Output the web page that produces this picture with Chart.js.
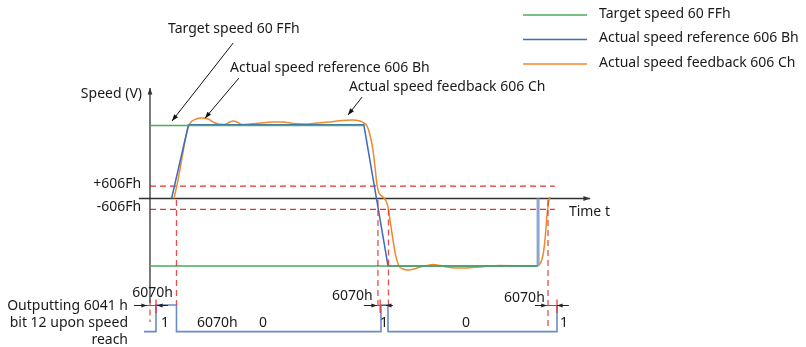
<!DOCTYPE html>
<html>
<head>
<meta charset="utf-8">
<script src="https://cdn.jsdelivr.net/npm/chart.js@4/dist/chart.umd.min.js"></script>
<style>
html, body { margin: 0; padding: 0; background: #fff; }
#wrap { width: 806px; height: 347px; position: relative; }
</style>
</head>
<body>
<div id="wrap"><canvas id="chart"></canvas></div>
<script>
// time in arbitrary units: 0 = speed axis, 100 = tip of the time axis
// speed in % of the target speed
const targetTime = [0, 48.9, 48.9, 0, 88.2]
const targetSpeed = [100, 100, null, -92.5, -92.5]

const refTime = [4.9, 8.75, 48.6, 54.1, 88.2, 88.2]
const refSpeed = [0, 101, 101, -92.5, -92.5, 0]

const fbTime = [5.45, 6.36, 7.27, 7.95, 8.64, 9.32, 10.45, 11.82, 13.18, 14.32, 15.45, 16.82,
	17.95, 18.86, 19.77, 20.91, 22.73, 25, 27.73, 30.23, 32.5, 35.23, 37.95, 40.91, 43.64,
	45.91, 47.73, 48.64, 49.32, 50, 50.68, 51.14, 51.59, 52.05, 52.95, 53.64, 54.09, 54.55,
	55.23, 55.91, 56.59, 57.5, 58.64, 60, 61.36, 62.95, 64.32, 65.91, 67.5, 69.32, 71.59,
	75, 79.55, 84.09, 87.73, 88.64, 89.32, 89.77, 90.23, 90.68, 90.91]
const fbSpeed = [0, 25.3, 55.5, 78.8, 96.6, 104.8, 108.9, 110.3, 108.9, 104.8, 102.1, 101.4,
	104.1, 106.2, 104.8, 101.4, 102.1, 103.4, 104.8, 104.8, 102.7, 102.1, 103.4, 104.8, 106.8,
	107.5, 106.2, 103.4, 99.3, 87, 66.4, 43.2, 18.5, 7.5, 2, -3.4, -11.6, -29.5,
	-56.8, -80.1, -92.5, -96.6, -97.9, -96.6, -93.8, -91.8, -90.4, -91.8, -93.8, -95.2, -95.2,
	-93.8, -91.8, -92.5, -92.5, -89.7, -77.4, -56.8, -22.6, -2, 2]

// 6041h bit 12 (speed reached)
const bitTime = [-1.36, 1.36, 1.36, 6.02, 6.02, 52.5, 52.5, 54.09, 54.09, 92.5, 92.5]
const bitLevel = [0, 0, 1, 1, 0, 0, 1, 1, 0, 0, 1]

// 606Fh window
const windowUp = 17
const windowDown = -15

// 6070h time windows
const windows = [
	{ start: -0.68, end: 1.59, tick: 1.36, tailL: -3.64, tailR: 4.09, labelT: 0.57, labelB: 1.45 },
	{ start: 51.6, end: 53.6, tick: 52.3, tailL: 48.6, tailR: 55.2, labelT: 46, labelB: 1.34 },
	{ start: 90.2, end: 92.5, tick: 92.5, tailL: 87.5, tailR: 95.2, labelT: 85.1, labelB: 1.26 },
]

// red dashed guides: from speed v (or bit level bTop) down to bit level b
const guides = [
	{ t: 0, bTop: 1.2, b: 0.36 },
	{ t: 6.02, v: -2, b: 1 },
	{ t: 51.8, v: -2, b: 1 },
	{ t: 54.2, v: -15, b: 1 },
	{ t: 90.45, v: -2, b: 0.1 },
]

const bitTexts = [
	{ text: '1', t: 3.4 },
	{ text: '6070h', t: 15.3 },
	{ text: '0', t: 25.7 },
	{ text: '1', t: 53.2 },
	{ text: '0', t: 71.8 },
	{ text: '1', t: 94.1 },
]

const callouts = [
	{ text: 'Target speed 60 FFh', tx: 4.09, tv: 232.2, from: [18.9, 213], to: [5, 106.2] },
	{ text: 'Actual speed reference 606 Bh', tx: 18.18, tv: 178.8, from: [20.2, 165], to: [12.5, 110] },
	{ text: 'Actual speed feedback 606 Ch', tx: 45.2, tv: 152.7, from: [48.2, 139], to: [45, 114.4] },
]

const GREEN = '#4cab5c'
const BLUE = '#3c6cbc'
const ORANGE = '#f0892a'
const BIT_BLUE = '#6a8cc6'
const RED = '#e8302c'
const FONT = '14px "Noto Sans"'

const legendItems = [
	{ text: 'Target speed 60 FFh', color: GREEN },
	{ text: 'Actual speed reference 606 Bh', color: BLUE },
	{ text: 'Actual speed feedback 606 Ch', color: ORANGE },
]

function toPoints(xs, ys) {
	return xs.map((t, i) => ({ x: t, y: ys[i] }))
}

function arrow(ctx, x1, y1, x2, y2, head) {
	ctx.beginPath()
	ctx.moveTo(x1, y1)
	ctx.lineTo(x2, y2)
	ctx.stroke()
	const a = Math.atan2(y2 - y1, x2 - x1)
	ctx.beginPath()
	ctx.moveTo(x2, y2)
	ctx.lineTo(x2 - head * Math.cos(a - 0.35), y2 - head * Math.sin(a - 0.35))
	ctx.lineTo(x2 - head * Math.cos(a + 0.35), y2 - head * Math.sin(a + 0.35))
	ctx.closePath()
	ctx.fill()
}

const diagram = {
	id: 'diagram',
	beforeDatasetsDraw(chart) {
		const { ctx } = chart
		const { x, y, bit } = chart.scales
		ctx.save()

		// 606Fh window lines
		ctx.strokeStyle = RED
		ctx.lineWidth = 1.2
		ctx.setLineDash([6, 4])
		for (const v of [windowUp, windowDown]) {
			ctx.beginPath()
			ctx.moveTo(x.getPixelForValue(0), y.getPixelForValue(v))
			ctx.lineTo(x.getPixelForValue(92), y.getPixelForValue(v))
			ctx.stroke()
		}
		ctx.setLineDash([])

		// axes
		ctx.strokeStyle = '#333'
		ctx.fillStyle = '#333'
		ctx.lineWidth = 1.3
		arrow(ctx, x.getPixelForValue(0), bit.getPixelForValue(1.07), x.getPixelForValue(0), y.getPixelForValue(151.4), 7)
		arrow(ctx, x.getPixelForValue(-2.5), y.getPixelForValue(0), x.getPixelForValue(100), y.getPixelForValue(0), 7)
		ctx.restore()
	},
	afterDatasetsDraw(chart) {
		const { ctx } = chart
		const { x, y, bit } = chart.scales
		ctx.save()

		// red dashed guides
		ctx.strokeStyle = 'rgba(232, 48, 44, 0.85)'
		ctx.lineWidth = 1.3
		ctx.setLineDash([6, 4])
		for (const g of guides) {
			const px = x.getPixelForValue(g.t)
			const top = g.v !== undefined ? y.getPixelForValue(g.v) : bit.getPixelForValue(g.bTop)
			ctx.beginPath()
			ctx.moveTo(px, top)
			ctx.lineTo(px, bit.getPixelForValue(g.b))
			ctx.stroke()
		}
		ctx.setLineDash([])

		// 6070h windows
		ctx.font = FONT
		ctx.textBaseline = 'middle'
		ctx.textAlign = 'center'
		for (const w of windows) {
			const py = bit.getPixelForValue(0.98)
			ctx.strokeStyle = RED
			ctx.lineWidth = 1.2
			ctx.beginPath()
			ctx.moveTo(x.getPixelForValue(w.start), py)
			ctx.lineTo(x.getPixelForValue(w.end), py)
			ctx.moveTo(x.getPixelForValue(w.tick), bit.getPixelForValue(1.2))
			ctx.lineTo(x.getPixelForValue(w.tick), bit.getPixelForValue(0.7))
			ctx.stroke()
			ctx.strokeStyle = '#222'
			ctx.fillStyle = '#222'
			ctx.lineWidth = 1
			arrow(ctx, x.getPixelForValue(w.tailL), py, x.getPixelForValue(w.start), py, 6)
			arrow(ctx, x.getPixelForValue(w.tailR), py, x.getPixelForValue(w.end), py, 6)
			ctx.fillStyle = '#1a1a1a'
			ctx.fillText('6070h', x.getPixelForValue(w.labelT), bit.getPixelForValue(w.labelB))
		}

		// bit lane texts
		for (const b of bitTexts) {
			ctx.fillText(b.text, x.getPixelForValue(b.t), bit.getPixelForValue(0.33))
		}

		// left labels
		ctx.textAlign = 'right'
		ctx.fillText('Speed (V)', x.getPixelForValue(-1.82), y.getPixelForValue(143.2))
		ctx.fillText('+606Fh', x.getPixelForValue(-2), y.getPixelForValue(windowUp) - 2)
		ctx.fillText('-606Fh', x.getPixelForValue(-2), y.getPixelForValue(windowDown) - 2)
		const lane = ['Outputting 6041 h', 'bit 12 upon speed', 'reach']
		const laneB = [0.96, 0.33, -0.31]
		lane.forEach((s, i) => ctx.fillText(s, x.getPixelForValue(-5), bit.getPixelForValue(laneB[i])))

		ctx.textAlign = 'left'
		ctx.fillText('Time t', x.getPixelForValue(95.2), y.getPixelForValue(-18.5))

		// callouts
		for (const c of callouts) {
			ctx.fillStyle = '#1a1a1a'
			ctx.fillText(c.text, x.getPixelForValue(c.tx), y.getPixelForValue(c.tv))
			ctx.strokeStyle = '#111'
			ctx.fillStyle = '#111'
			ctx.lineWidth = 1
			arrow(ctx, x.getPixelForValue(c.from[0]), y.getPixelForValue(c.from[1]),
				x.getPixelForValue(c.to[0]), y.getPixelForValue(c.to[1]), 7)
		}

		// legend
		legendItems.forEach((item, i) => {
			const ly = 15 + i * 24.5
			ctx.strokeStyle = item.color
			ctx.lineWidth = 1.5
			ctx.beginPath()
			ctx.moveTo(523, ly)
			ctx.lineTo(587, ly)
			ctx.stroke()
			ctx.fillStyle = '#1a1a1a'
			ctx.fillText(item.text, 599, ly - 1)
		})
		ctx.restore()
	},
}

new Chart(document.getElementById('chart'), {
	type: 'scatter',
	data: {
		datasets: [
			{
				label: 'Target speed 60 FFh',
				data: toPoints(targetTime, targetSpeed),
				showLine: true,
				borderColor: GREEN,
				borderWidth: 1.5,
				pointRadius: 0,
				spanGaps: false,
				clip: false,
			},
			{
				label: 'Actual speed reference 606 Bh',
				data: toPoints(refTime, refSpeed),
				showLine: true,
				borderColor: BLUE,
				borderWidth: 1.5,
				pointRadius: 0,
				clip: false,
				segment: {
					borderColor: c => (c.p0.parsed.x === c.p1.parsed.x ? '#8ba6d0' : BLUE),
					borderWidth: c => (c.p0.parsed.x === c.p1.parsed.x ? 3 : 1.5),
				},
			},
			{
				label: 'Actual speed feedback 606 Ch',
				data: toPoints(fbTime, fbSpeed),
				showLine: true,
				borderColor: ORANGE,
				borderWidth: 1.5,
				pointRadius: 0,
				cubicInterpolationMode: 'monotone',
				clip: false,
			},
			{
				label: 'bit 12',
				data: toPoints(bitTime, bitLevel),
				yAxisID: 'bit',
				showLine: true,
				borderColor: BIT_BLUE,
				borderWidth: 1.6,
				pointRadius: 0,
				clip: false,
			},
		],
	},
	options: {
		responsive: true,
		maintainAspectRatio: false,
		animation: false,
		events: [],
		layout: { padding: { left: 150, right: 216, top: 125, bottom: 81 } },
		scales: {
			x: { type: 'linear', min: 0, max: 100, display: false },
			y: { min: -92.5, max: 100.7, display: false },
			bit: { min: 2.46, max: 7.745, display: false },
		},
		plugins: {
			legend: { display: false },
			tooltip: { enabled: false },
		},
	},
	plugins: [diagram],
})
</script>
</body>
</html>
